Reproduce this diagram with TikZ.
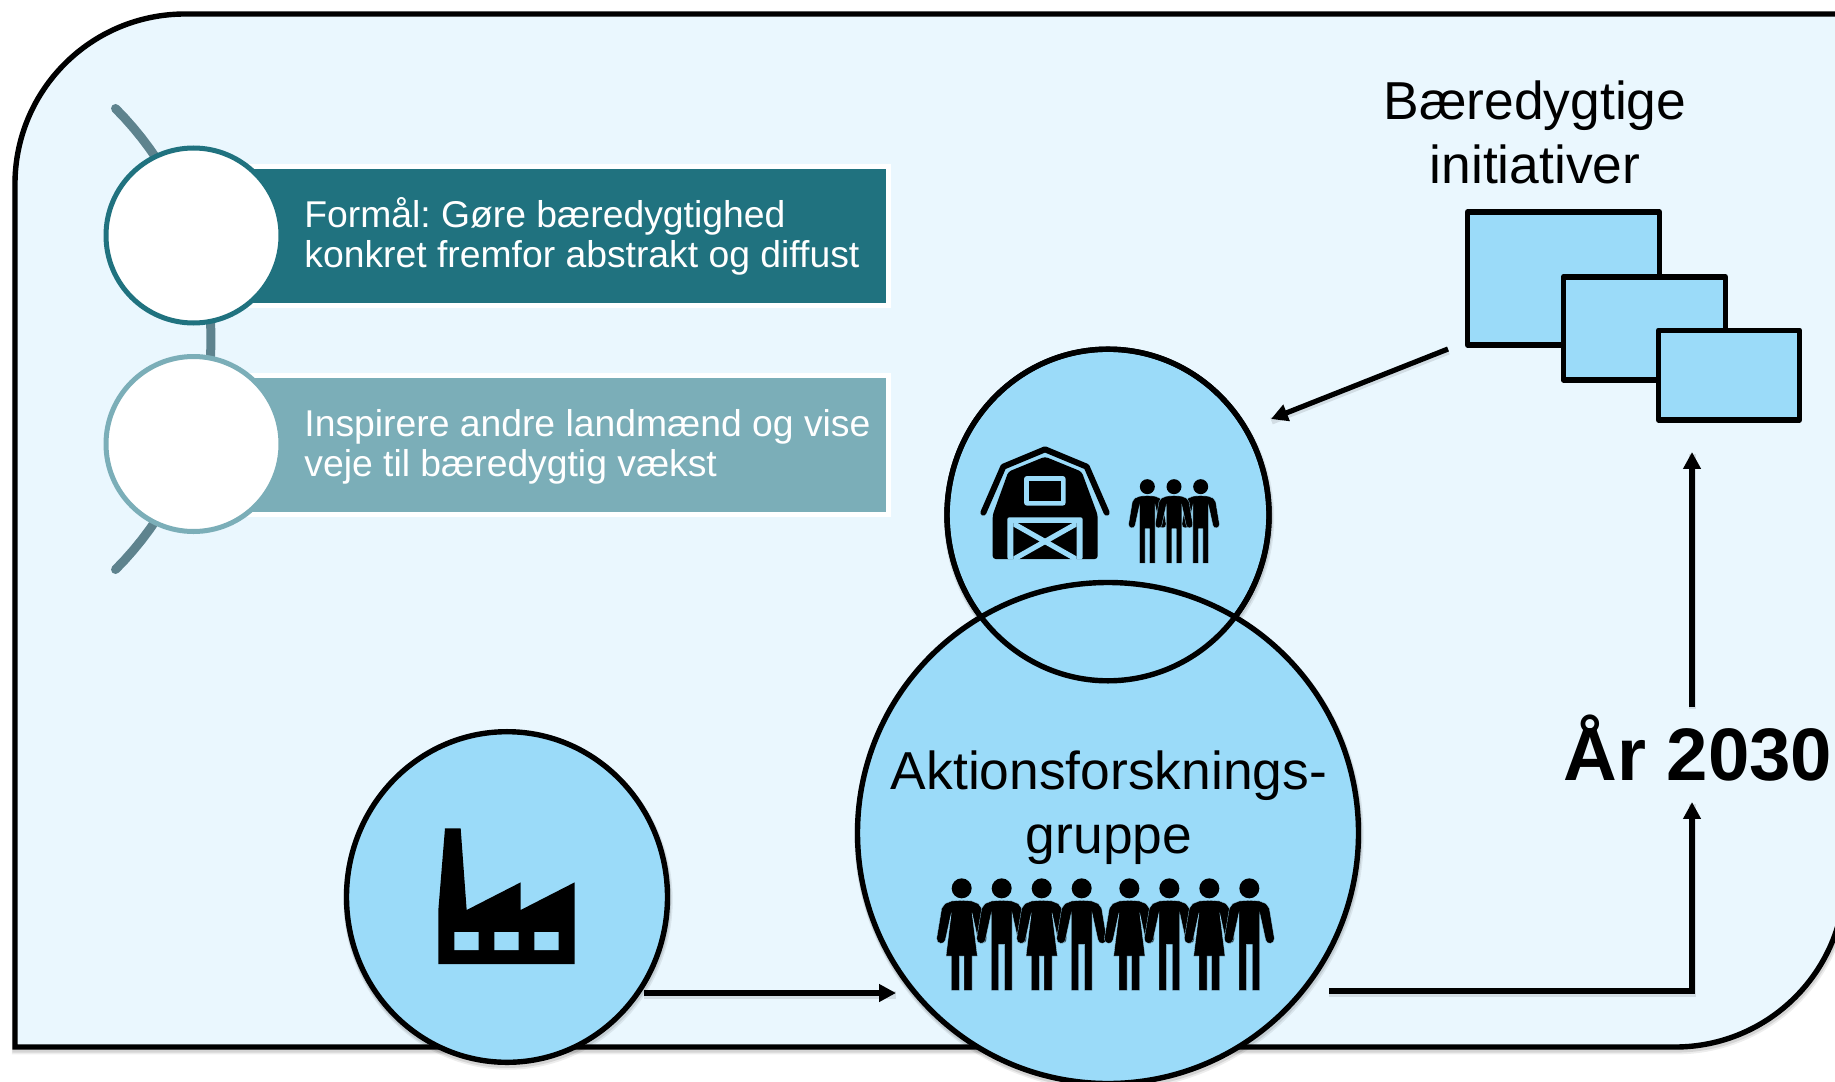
\documentclass[tikz,border=0pt]{standalone}
\usepackage{fontspec}
\setmainfont{Liberation Sans}
\usetikzlibrary{arrows.meta,shapes.geometric}
\definecolor{pagebg}{HTML}{EAF7FE}
\definecolor{skyfill}{HTML}{9BDBF9}
\definecolor{tealdark}{HTML}{20727F}
\definecolor{teallight}{HTML}{7BAEB8}
\definecolor{arcgrey}{HTML}{5E838E}
\tikzset{
  softshade/.style={
    preaction={draw=black,draw opacity=.07,line width=4.2pt,transform canvas={yshift=-1.6pt,xshift=.5pt}},
    preaction={draw=black,draw opacity=.10,line width=3.2pt,transform canvas={yshift=-1.2pt,xshift=.3pt}}},
  lineshade/.style={
    preaction={draw=black,draw opacity=.10,line width=3.6pt,-,transform canvas={yshift=-1pt,xshift=.2pt}}},
  disc/.style={ellipse,draw=black,line width=2.7pt,fill=skyfill,inner sep=0pt,minimum width=#1,minimum height=#1*1.03},
  bigdisc/.style={circle,draw=black,line width=2.7pt,fill=skyfill,inner sep=0pt,minimum size=#1},
  whitedisc/.style={circle,draw=#1,line width=2.5pt,fill=white,inner sep=0pt,minimum size=87.5pt},
  banner/.style={anchor=north west,rectangle,fill=#1,draw=white,line width=2.5pt,minimum width=347pt,minimum height=69.5pt,inner sep=0pt},
  bannertext/.style={anchor=west,align=left,text=white,inner sep=0pt,font=\fontsize{18.65}{20}\selectfont},
  boxrect/.style={fill=skyfill,draw=black,line width=2.7pt,line join=round,inner sep=0pt},
  flow/.style={draw=black,line width=2.6pt,-{Triangle[length=8.4pt,width=8.4pt]},lineshade},
  title/.style={align=center,text=black,inner sep=0pt,font=\fontsize{26.7}{32}\selectfont},
  silhouette/.style={fill=black,draw=skyfill,line width=.15pt}
}
\frenchspacing
% silhouettes are drawn in units of a third of a pixel, head centre at the origin
\newcommand{\manshape}[3]{%
  \begin{scope}[shift={(#1,#2)},scale=#3]
    \fill[black] (0,0) circle [radius=30];
    \path[silhouette] (0,36) -- (-30,38) -- (-50,46) -- (-60,60) -- (-75,150)
      .. controls (-77,168) and (-51,170) .. (-49,155) -- (-31,73) -- (-31,306) -- (-9,306) -- (-9,168) -- (9,168) -- (9,306) -- (31,306) -- (31,73) -- (49,155)
      .. controls (51,170) and (77,168) .. (75,150) -- (60,60) -- (50,46) -- (30,38) -- cycle;
  \end{scope}}
\newcommand{\womanshape}[3]{%
  \begin{scope}[shift={(#1,#2)},scale=#3]
    \fill[black] (0,0) circle [radius=30];
    \path[silhouette] (0,36) -- (-30,38) -- (-50,46) -- (-60,60) -- (-75,150)
      .. controls (-77,168) and (-51,170) .. (-49,155) -- (-31,73) -- (-47,203) -- (-31,203) -- (-31,306) -- (-7,306) -- (-7,203) -- (7,203) -- (7,306) -- (31,306) -- (31,203) -- (47,203) -- (31,73) -- (49,155)
      .. controls (51,170) and (77,168) .. (75,150) -- (60,60) -- (50,46) -- (30,38) -- cycle;
  \end{scope}}
\begin{document}
\begin{tikzpicture}[x=.5pt,y=-.5pt]
\clip (0,0) rectangle (1835,1081);
\fill[white] (0,0) rectangle (1835,1081);

% outer panel
\path[fill=pagebg,draw=black,line width=2.7pt,softshade]
  (15,500) [rounded corners=85pt] -- (15,14) -- (1000,14) [sharp corners] -- (1845,14) -- (1845,500)
  [rounded corners=85pt] -- (1845,1047) -- (1000,1047) [sharp corners] -- (15,1047) -- cycle;

% left list
\draw[arcgrey,line width=4.5pt,line cap=round] plot[domain=-45:45,samples=40] ({-115+326*cos(\x)},{339+326*sin(\x)});
\node[banner=tealdark] (b1) at (192,163.5) {};
\node[banner=teallight] (b2) at (192,372.5) {};
\node[bannertext] (b1t) at (304,236) {Formål: Gøre bæredygtighed\\konkret fremfor abstrakt og diffust};
\node[bannertext] (b2t) at (304,446.5) {Inspirere andre landmænd og vise\\veje til bæredygtig vækst};
\node[whitedisc=tealdark] (c1) at (193.5,235.5) {};
\node[whitedisc=teallight] (c2) at (193.5,444) {};

% circles
\node[disc=160.5pt,softshade] (factory) at (507,897) {};
\node[disc=161pt,softshade] (farm) at (1108,515) {};
\node[bigdisc=250.5pt,softshade] (group) at (1108,833) {};
\node[ellipse,draw=black,line width=2.7pt,inner sep=0pt,minimum width=161pt,minimum height=165.8pt] (farmline) at (farm.center) {};

% rectangles
\node[boxrect,minimum width=96pt,minimum height=66.5pt] (r1) at (1563.5,278.5) {};
\node[boxrect,minimum width=81pt,minimum height=51.5pt] (r2) at (1644.3,328.3) {};
\node[boxrect,minimum width=70.5pt,minimum height=44.8pt] (r3) at (1729,375) {};

% labels
\node[title] (t1) at (1535,132.5) {Bæredygtige\\initiativer};
\node[title] (t2) at (1109,807.5) {Aktionsforsknings-\\gruppe};
\node[inner sep=0pt,font=\fontsize{37.2}{40}\selectfont\bfseries] (year) at (1698,748) {År 2030};

% connectors
\coordinate (a1s) at (1448,349); \coordinate (a1e) at (1271,419);
\coordinate (a2s) at (644,993);  \coordinate (a2e) at (896,993);
\coordinate (a3s) at (1329,991); \coordinate (a3c) at (1692,991); \coordinate (a3e) at (1692,802);
\coordinate (a4s) at (1692,707); \coordinate (a4e) at (1692,452);
\draw[flow] (a1s) -- (a1e);
\draw[flow] (a2s) -- (a2e);
\draw[flow] (a3s) -- (a3c) -- (a3e);
\draw[flow] (a4s) -- (a4e);

% factory icon
\begin{scope}[shift={(420,810)},scale=1/3]
  \fill[black] (55,462) -- (55,300) -- (75,55) -- (122,55) -- (140,300) -- (302,217) -- (302,300) -- (464,217) -- (464,462) -- cycle;
  \fill[skyfill] (103,366) rectangle (176,420) (223,366) rectangle (296,420) (343,366) rectangle (416,420);
\end{scope}

% barn icon
\begin{scope}[shift={(950,420)},scale=1/3]
  \draw[black,line width=3pt,line cap=round,line join=round] (100,278) -- (160,140) -- (285,88) -- (410,140) -- (470,278);
  \fill[black,rounded corners=1.5pt] (128,417) -- (128,285) -- (175,155) -- (285,110) -- (395,155) -- (443,285) -- (443,417) -- cycle;
  \fill[skyfill,rounded corners=1.5pt] (222,168) rectangle (347,257);
  \fill[black] (237,183) rectangle (332,243);
  \fill[skyfill,rounded corners=1pt] (172,292) -- (398,292) -- (398,418) -- (172,418) -- cycle;
  \begin{scope}
    \clip (190,308) rectangle (380,418);
    \fill[black] (190,308) rectangle (380,418);
    \draw[skyfill,line width=2.6pt] (178,304) -- (392,425) (392,304) -- (178,425);
  \end{scope}
\end{scope}

% people in the farm circle
\begin{scope}[shift={(950,420)},scale=1/3]
  \manshape{592}{200}{.75}
  \manshape{752}{200}{.75}
  \manshape{672}{200}{.75}
\end{scope}

% people in the group circle
\begin{scope}[shift={(920,861)},scale=1/3]
  \womanshape{125}{82}{1}
  \manshape{245}{82}{1}
  \womanshape{365}{82}{1}
  \manshape{485}{82}{1}
  \womanshape{628}{82}{1}
  \manshape{748}{82}{1}
  \womanshape{868}{82}{1}
  \manshape{988}{82}{1}
\end{scope}
\end{tikzpicture}
\end{document}
